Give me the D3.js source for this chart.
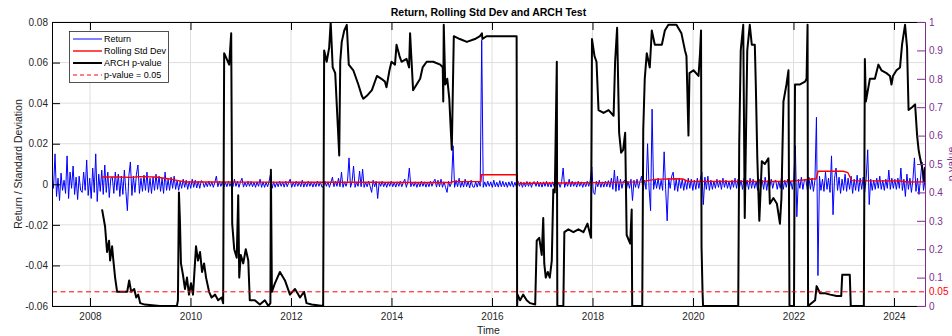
<!DOCTYPE html>
<html lang="en">
<head>
<meta charset="UTF-8" />
<title>Return, Rolling Std Dev and ARCH Test</title>
<script src="https://d3js.org/d3.v7.min.js"></script>
<style>
  body { margin: 0; background: white; font-family: "Liberation Sans", Arial, sans-serif; }
  svg { display: block; }
  .tick text { font-size: 10px; }
</style>
</head>
<body>
<svg id="chart" width="952" height="336"></svg>
<script>
// ---- data ----
const timeStart = 2007.244, timeEnd = 2024.617;
const yearTicks = [2008, 2010, 2012, 2014, 2016, 2018, 2020, 2022, 2024];
const leftTicks = [-0.06, -0.04, -0.02, 0, 0.02, 0.04, 0.06, 0.08];
const rightTicks = [0, 0.1, 0.2, 0.3, 0.4, 0.5, 0.6, 0.7, 0.8, 0.9, 1];
const pThreshold = 0.05;

// returns in units of 0.0001, evenly spaced from timeStart to timeEnd
const returnValues = [
  40,-20,150,-60,30,-80,55,-30,20,-45,140,-70,60,-20,90,-50,35,-75,40,-30,
  -40,60,-30,120,-55,30,-70,80,-40,150,-85,50,-35,70,-50,95,-40,60,-65,30,
  35,-45,60,-30,50,-60,40,-50,70,-35,-130,45,110,-55,40,-40,50,95,-45,30,
  -35,45,-30,60,-40,30,-45,35,-30,50,-25,40,-35,30,-45,60,-30,25,-30,35,
  -20,40,-25,20,-30,15,-20,25,-15,20,-25,15,-20,25,-15,20,-18,15,-20,18,
  12,-15,10,-12,15,-10,12,-15,10,40,-12,15,-10,12,-14,10,-12,15,-10,12,
  -12,25,-10,15,-15,12,30,-14,10,-12,15,-10,14,-12,10,-15,12,-10,25,-15,
  12,-15,10,-12,15,55,-20,12,-15,10,-12,15,-10,12,-14,15,-12,10,25,-15,
  10,-12,15,-10,12,-12,20,-14,10,-12,15,-10,12,-14,10,-12,15,-10,12,-14,
  -12,15,-10,12,-15,10,35,-12,15,-10,30,-12,60,-15,12,-10,15,130,-15,12,
  90,-15,12,-10,65,-12,75,-15,10,-12,15,-10,-40,20,-12,15,-70,12,-10,15,
  -12,10,-15,12,-10,15,-12,10,-14,12,-10,15,-12,10,25,-15,12,80,-12,10,
  -10,12,-15,10,-12,15,-10,12,-14,10,-12,15,-10,12,25,-14,20,-12,25,-15,
  12,-15,-40,15,-12,10,190,-15,20,-12,30,-15,12,-14,25,-12,15,-18,20,-12,
  -15,12,-14,15,-10,710,-15,12,-12,15,-10,12,-15,20,-12,10,-14,18,-12,15,
  -12,10,-15,12,-10,15,-14,10,-12,15,-10,12,-15,10,-12,14,-10,12,-15,10,
  12,-10,15,-12,10,-14,12,-10,15,-12,10,-14,12,-10,15,-12,10,-15,12,80,
  -15,12,-10,25,-12,15,-10,12,-14,15,-10,12,-15,10,-12,15,-10,20,85,-40,
  -50,15,-12,20,-15,12,-14,15,-12,18,-15,30,-25,70,-35,40,-30,25,-20,15,
  20,-25,15,-20,25,-80,20,-15,25,-20,15,40,-30,20,-25,200,-20,-130,370,-25,
  25,-20,30,-25,20,-30,160,-25,-180,30,-20,40,60,-30,25,-35,30,-20,25,-30,
  20,-25,30,-20,25,-30,20,-25,30,-20,25,60,-100,35,-25,40,-30,20,-25,15,
  -20,25,-15,20,-25,30,-15,20,-20,15,-25,20,-15,30,-20,25,-15,20,-25,30,
  -15,20,-25,30,-20,25,-20,15,-30,25,-15,20,-25,35,-30,20,-15,25,-20,15,
  20,-25,15,-20,45,-25,20,-15,25,-20,15,-25,30,190,-160,25,-20,35,-25,20,
  25,-30,35,-25,30,-35,20,330,-450,40,-30,25,-35,60,-25,30,-40,140,-150,30,
  80,-30,35,-45,25,-30,50,-35,30,-25,40,-45,25,-30,45,-35,30,-25,35,-40,
  30,170,-100,25,-30,20,-25,30,-20,40,-25,20,-30,25,-20,70,-25,30,-20,25,
  -25,30,-20,80,-30,25,-60,50,-25,30,-40,25,130,-35,30,-50,25,110,-30,20
];

const stdTime = [2008.24, 2008.54, 2008.80, 2008.99, 2009.29, 2009.45, 2009.59, 2009.73, 2009.89,
  2010.39, 2012.18, 2013.37, 2014.57, 2015.20, 2015.21, 2015.78, 2015.79, 2016.50, 2016.51,
  2017.35, 2018.15, 2018.99, 2019.10, 2019.24, 2019.64, 2019.80, 2019.90, 2021.87, 2022.07,
  2022.33, 2022.45, 2022.49, 2022.99, 2023.08, 2023.16, 2024.12, 2024.26, 2024.62];
const stdValue = [0.0036, 0.0036, 0.0034, 0.0038, 0.0036, 0.0031, 0.0026, 0.0019, 0.0011,
  0.0011, 0.0010, 0.0010, 0.0009, 0.0009, 0.0013, 0.0013, 0.0047, 0.0047, 0.0004,
  0.0006, 0.0008, 0.0012, 0.0018, 0.0024, 0.0027, 0.0026, 0.0014, 0.0014, 0.0018,
  0.0025, 0.0027, 0.0064, 0.0064, 0.0058, 0.0018, 0.0016, 0.0011, 0.0012];

const pTime = [
  2008.24, 2008.30, 2008.34, 2008.38, 2008.40, 2008.44, 2008.46, 2008.50, 2008.54, 2008.74,
  2008.78, 2008.82, 2008.88, 2008.92, 2008.96, 2009.00, 2009.09, 2009.39, 2009.73, 2009.75,
  2009.77, 2009.79, 2009.81, 2009.85, 2009.89, 2009.93, 2009.97, 2010.01, 2010.05, 2010.11,
  2010.15, 2010.19, 2010.23, 2010.27, 2010.31, 2010.37, 2010.42, 2010.49, 2010.55, 2010.62,
  2010.65, 2010.67, 2010.72, 2010.77, 2010.81, 2010.83, 2010.87, 2010.92, 2010.95, 2010.97,
  2011.00, 2011.05, 2011.10, 2011.15, 2011.18, 2011.28, 2011.38, 2011.48, 2011.55, 2011.59,
  2011.60, 2011.62, 2011.68, 2011.78, 2011.88, 2011.98, 2012.08, 2012.18, 2012.26, 2012.31,
  2012.41, 2012.64, 2012.66, 2012.71, 2012.76, 2012.79, 2012.83, 2012.88, 2012.93, 2012.96,
  2012.98, 2013.01, 2013.06, 2013.11, 2013.15, 2013.24, 2013.34, 2013.41, 2013.44, 2013.51,
  2013.61, 2013.71, 2013.80, 2013.87, 2013.90, 2013.96, 2014.00, 2014.07, 2014.10, 2014.16,
  2014.20, 2014.30, 2014.35, 2014.37, 2014.40, 2014.43, 2014.50, 2014.57, 2014.62, 2014.70,
  2014.83, 2014.97, 2015.02, 2015.03, 2015.04, 2015.07, 2015.11, 2015.15, 2015.18, 2015.20,
  2015.22, 2015.24, 2015.36, 2015.50, 2015.66, 2015.76, 2015.80, 2015.81, 2015.89, 2016.49,
  2016.50, 2016.51, 2016.56, 2016.62, 2016.69, 2016.76, 2016.86, 2016.89, 2016.94, 2016.99,
  2017.02, 2017.04, 2017.07, 2017.11, 2017.15, 2017.19, 2017.22, 2017.25, 2017.29, 2017.30,
  2017.42, 2017.44, 2017.52, 2017.62, 2017.72, 2017.82, 2017.90, 2017.97, 2017.99, 2018.04,
  2018.08, 2018.12, 2018.22, 2018.32, 2018.42, 2018.45, 2018.49, 2018.53, 2018.57, 2018.61,
  2018.65, 2018.68, 2018.75, 2018.78, 2018.79, 2018.99, 2019.01, 2019.04, 2019.08, 2019.14,
  2019.18, 2019.24, 2019.31, 2019.38, 2019.44, 2019.51, 2019.64, 2019.67, 2019.77, 2019.84,
  2019.87, 2019.91, 2019.93, 2020.01, 2020.11, 2020.14, 2020.16, 2020.17, 2020.19, 2020.20,
  2020.90, 2020.92, 2020.95, 2021.00, 2021.03, 2021.08, 2021.13, 2021.17, 2021.23, 2021.25,
  2021.28, 2021.32, 2021.37, 2021.43, 2021.50, 2021.53, 2021.60, 2021.67, 2021.73, 2021.76,
  2021.80, 2021.86, 2021.90, 2021.92, 2022.01, 2022.03, 2022.13, 2022.23, 2022.26, 2022.28,
  2022.29, 2022.43, 2022.46, 2022.53, 2022.63, 2022.73, 2022.86, 2022.95, 2022.97, 2023.12,
  2023.14, 2023.40, 2023.42, 2023.44, 2023.49, 2023.52, 2023.62, 2023.69, 2023.75, 2023.85,
  2023.92, 2023.95, 2023.98, 2024.05, 2024.12, 2024.16, 2024.22, 2024.26, 2024.29, 2024.36,
  2024.42, 2024.46, 2024.49, 2024.52, 2024.57, 2024.60, 2024.62
];
const pValue = [
  0.34, 0.28, 0.19, 0.23, 0.16, 0.21, 0.17, 0.10, 0.05, 0.05,
  0.09, 0.05, 0.06, 0.03, 0.04, 0.01, 0.005, 0.0, 0.0, 0.02,
  0.40, 0.30, 0.15, 0.11, 0.06, 0.10, 0.04, 0.08, 0.04, 0.21,
  0.16, 0.19, 0.12, 0.15, 0.10, 0.05, 0.03, 0.04, 0.02, 0.03,
  0.01, 0.89, 0.87, 0.85, 0.96, 0.29, 0.20, 0.17, 0.39, 0.10,
  0.18, 0.15, 0.20, 0.16, 0.02, 0.02, 0.005, 0.02, 0.0, 0.01,
  0.48, 0.05, 0.08, 0.12, 0.09, 0.04, 0.06, 0.03, 0.05, 0.01,
  0.005, 0.0, 0.90, 0.86, 0.91, 1.0, 0.84, 0.82, 0.64, 0.53,
  0.86, 0.93, 0.97, 0.99, 0.85, 0.83, 0.78, 0.74, 0.73, 0.74,
  0.76, 0.81, 0.80, 0.79, 0.77, 0.83, 0.86, 0.85, 0.92, 0.88,
  0.86, 0.87, 0.84, 0.96, 0.86, 0.76, 0.78, 0.80, 0.84, 0.86,
  0.86, 0.85, 0.84, 0.72, 0.99, 0.78, 0.80, 0.73, 0.62, 0.55,
  0.75, 0.95, 0.94, 0.93, 0.94, 0.95, 0.96, 0.94, 0.95, 0.95,
  0.0, 0.04, 0.02, 0.04, 0.02, 0.01, 0.005, 0.23, 0.24, 0.18,
  0.31, 0.15, 0.10, 0.12, 0.10, 0.16, 0.41, 0.40, 0.86, 0.0,
  0.0, 0.26, 0.27, 0.26, 0.27, 0.26, 0.29, 0.24, 0.94, 0.88,
  0.86, 0.69, 0.68, 0.69, 0.67, 0.86, 0.98, 0.61, 0.54, 0.55,
  0.61, 0.25, 0.22, 0.34, 0.0, 0.0, 0.62, 0.80, 0.89, 0.84,
  0.97, 0.92, 0.92, 0.92, 0.97, 0.99, 0.99, 0.99, 0.96, 0.90,
  0.88, 0.60, 0.82, 0.83, 0.81, 0.89, 0.97, 0.21, 0.05, 0.0,
  0.0, 0.57, 0.90, 0.99, 0.31, 0.90, 0.99, 0.92, 0.92, 0.78,
  0.52, 0.30, 0.51, 0.50, 0.52, 0.36, 0.38, 0.36, 0.29, 0.38,
  0.72, 0.78, 0.83, 0.0, 0.0, 0.78, 0.78, 0.79, 0.80, 0.99,
  0.0, 0.02, 0.07, 0.045, 0.045, 0.04, 0.035, 0.035, 0.11, 0.11,
  0.0, 0.0, 0.87, 0.72, 0.77, 0.80, 0.80, 0.85, 0.83, 0.82,
  0.81, 0.78, 0.81, 0.83, 0.84, 0.92, 0.99, 0.91, 0.69, 0.70,
  0.71, 0.60, 0.55, 0.52, 0.48, 0.44, 0.49
];

// ---- layout ----
const plotLeft = 52, plotRight = 925, plotTop = 22, plotBottom = 306;
const purple = "#7E2F8E";
const textColor = "#262626";

const svg = d3.select("#chart");

const x = d3.scaleLinear().domain([timeStart, timeEnd]).range([plotLeft, plotRight]);
const yL = d3.scaleLinear().domain([-0.06, 0.08]).range([plotBottom, plotTop]);
const yR = d3.scaleLinear().domain([0, 1]).range([plotBottom, plotTop]);
const idxTime = d3.scaleLinear().domain([0, returnValues.length - 1]).range([timeStart, timeEnd]);

svg.append("defs").append("clipPath").attr("id", "plot-clip")
  .append("rect").attr("x", plotLeft).attr("y", plotTop)
  .attr("width", plotRight - plotLeft).attr("height", plotBottom - plotTop);

// grid
const grid = svg.append("g").attr("stroke", "#dedede").attr("stroke-width", 1);
grid.selectAll(".gx").data(yearTicks).enter().append("line")
  .attr("x1", d => x(d)).attr("x2", d => x(d))
  .attr("y1", plotTop).attr("y2", plotBottom);
grid.selectAll(".gy").data(leftTicks).enter().append("line")
  .attr("x1", plotLeft).attr("x2", plotRight)
  .attr("y1", d => yL(d)).attr("y2", d => yL(d));

const plot = svg.append("g").attr("clip-path", "url(#plot-clip)");

// return
plot.append("path")
  .datum(returnValues)
  .attr("fill", "none").attr("stroke", "#0000ff").attr("stroke-width", 1)
  .attr("d", d3.line().x((d, i) => x(idxTime(i))).y(d => yL(d * 1e-4)));

// rolling std dev
plot.append("path")
  .datum(stdTime.map((t, i) => [t, stdValue[i]]))
  .attr("fill", "none").attr("stroke", "#ff0000").attr("stroke-width", 1.4)
  .attr("d", d3.line().x(d => x(d[0])).y(d => yL(d[1])));

// ARCH p-value
plot.append("path")
  .datum(pTime.map((t, i) => [t, pValue[i]]))
  .attr("fill", "none").attr("stroke", "#000000").attr("stroke-width", 2)
  .attr("stroke-linejoin", "round")
  .attr("d", d3.line().x(d => x(d[0])).y(d => yR(d[1])));

// threshold
plot.append("line")
  .attr("x1", plotLeft).attr("x2", plotRight)
  .attr("y1", yR(pThreshold)).attr("y2", yR(pThreshold))
  .attr("stroke", "#ff0000").attr("stroke-width", 1)
  .attr("stroke-dasharray", "5,3.5");

// axes
function styleAxis(g, color, labelColor) {
  g.select(".domain").attr("stroke", color).attr("stroke-width", 1);
  g.selectAll(".tick line").attr("stroke", color).attr("stroke-width", 1);
  g.selectAll(".tick text").attr("fill", labelColor)
    .style("font-family", "'Liberation Sans', Arial, sans-serif");
}

svg.append("g").attr("transform", `translate(0,${plotBottom})`)
  .call(d3.axisBottom(x).tickValues(yearTicks).tickFormat(d3.format("d"))
    .tickSize(-8).tickSizeOuter(0).tickPadding(7))
  .call(g => styleAxis(g, "#000", textColor));

svg.append("g").attr("transform", `translate(0,${plotTop})`)
  .call(d3.axisTop(x).tickValues(yearTicks).tickFormat("")
    .tickSize(-8).tickSizeOuter(0))
  .call(g => styleAxis(g, "#000", textColor));

svg.append("g").attr("transform", `translate(${plotLeft},0)`)
  .call(d3.axisLeft(yL).tickValues(leftTicks).tickFormat(d => String(+d.toFixed(2)))
    .tickSize(-8).tickSizeOuter(0).tickPadding(4))
  .call(g => styleAxis(g, "#000", textColor));

svg.append("g").attr("transform", `translate(${plotRight},0)`)
  .call(d3.axisRight(yR).tickValues(rightTicks).tickFormat(d => String(+d.toFixed(1)))
    .tickSize(-8).tickSizeOuter(0).tickPadding(4))
  .call(g => styleAxis(g, purple, purple));

// red threshold tick label
svg.append("text")
  .attr("x", plotRight + 4).attr("y", yR(pThreshold)).attr("dy", "0.32em")
  .attr("fill", "#ff0000").style("font-size", "10px")
  .text(pThreshold);

// titles
svg.append("text")
  .attr("x", (plotLeft + plotRight) / 2).attr("y", 16)
  .attr("text-anchor", "middle").attr("font-weight", "bold")
  .attr("fill", "#000").style("font-size", "10.5px")
  .text("Return, Rolling Std Dev and ARCH Test");

svg.append("text")
  .attr("x", (plotLeft + plotRight) / 2).attr("y", 334)
  .attr("text-anchor", "middle").attr("fill", textColor).style("font-size", "10.5px")
  .text("Time");

svg.append("text")
  .attr("transform", `translate(22,${(plotTop + plotBottom) / 2}) rotate(-90)`)
  .attr("text-anchor", "middle").attr("fill", textColor).style("font-size", "10.5px")
  .text("Return / Standard Deviation");

svg.append("text")
  .attr("transform", `translate(955,${(plotTop + plotBottom) / 2}) rotate(-90)`)
  .attr("text-anchor", "middle").attr("fill", purple).style("font-size", "10.5px")
  .text("p-value");

// legend
const legendItems = [
  { label: "Return", color: "#0000ff", width: 1, dash: null },
  { label: "Rolling Std Dev", color: "#ff0000", width: 1.4, dash: null },
  { label: "ARCH p-value", color: "#000000", width: 2, dash: null },
  { label: "p-value = 0.05", color: "#ff0000", width: 1, dash: "4,3" }
];
const legend = svg.append("g").attr("transform", "translate(69.5,31.5)");
legend.append("rect")
  .attr("width", 99).attr("height", 51)
  .attr("fill", "white").attr("stroke", textColor).attr("stroke-width", 0.8);
const rows = legend.selectAll(".row").data(legendItems).enter().append("g")
  .attr("transform", (d, i) => `translate(0,${7.5 + i * 12})`);
rows.append("line")
  .attr("x1", 3.5).attr("x2", 32.5)
  .attr("stroke", d => d.color).attr("stroke-width", d => d.width)
  .attr("stroke-dasharray", d => d.dash);
rows.append("text")
  .attr("x", 34.5).attr("dy", "0.35em")
  .attr("fill", "#000").style("font-size", "9px")
  .text(d => d.label);
</script>
</body>
</html>
